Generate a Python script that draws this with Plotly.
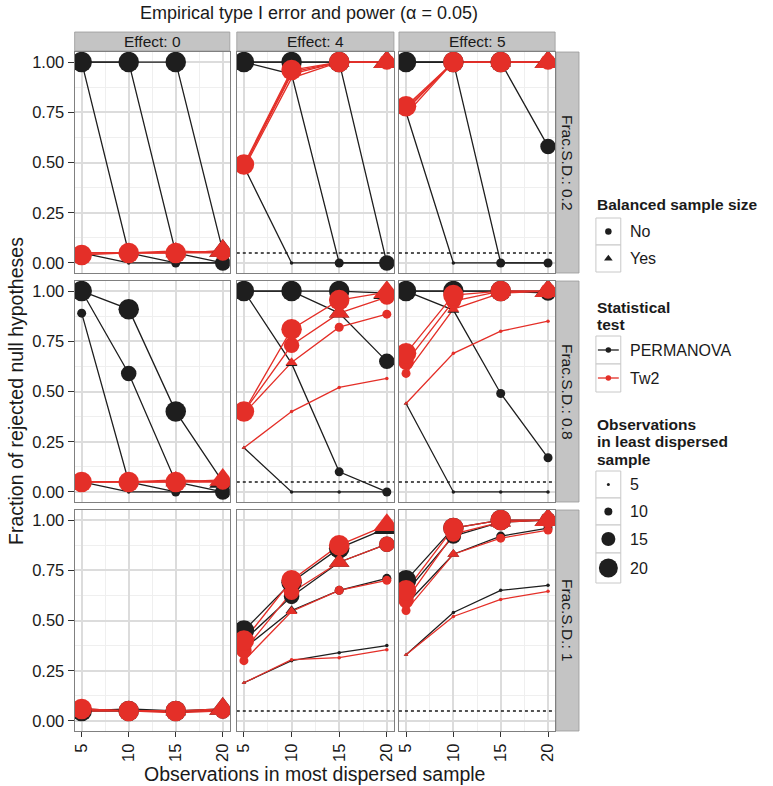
import plotly.graph_objects as go

W, H = 773, 786

# ---------------- data ----------------
n_most = [5, 10, 15, 20]        # x: observations in most dispersed sample
n_least = [5, 10, 15, 20]       # size: observations in least dispersed sample
effects = ["0", "4", "5"]
fracs = ["0.2", "0.8", "1"]
tests = ["PERMANOVA", "Tw2"]
alpha = 0.05
x_ticks = [5, 10, 15, 20]
y_ticks = [0, 0.25, 0.5, 0.75, 1.0]
y_ticktext = ["0.00", "0.25", "0.50", "0.75", "1.00"]

# each list: rows = n_least 5,10,15,20 ; columns = n_most 5,10,15,20
perm_e0_f02 = [[0.05, 0.00, 0.00, 0.00], [1.00, 0.05, 0.00, 0.00], [1.00, 1.00, 0.05, 0.00], [1.00, 1.00, 1.00, 0.06]]
tw2_e0_f02 = [[0.05, 0.05, 0.05, 0.06], [0.05, 0.05, 0.05, 0.05], [0.05, 0.05, 0.06, 0.05], [0.04, 0.05, 0.05, 0.06]]
perm_e4_f02 = [[0.48, 0.00, 0.00, 0.00], [1.00, 0.94, 0.00, 0.00], [1.00, 1.00, 1.00, 0.00], [1.00, 1.00, 1.00, 1.00]]
tw2_e4_f02 = [[0.47, 0.92, 1.00, 1.00], [0.48, 0.94, 1.00, 1.00], [0.48, 0.95, 1.00, 1.00], [0.49, 0.96, 1.00, 1.00]]
perm_e5_f02 = [[0.75, 0.00, 0.00, 0.00], [1.00, 1.00, 0.00, 0.00], [1.00, 1.00, 1.00, 0.58], [1.00, 1.00, 1.00, 1.00]]
tw2_e5_f02 = [[0.74, 1.00, 1.00, 1.00], [0.76, 1.00, 1.00, 1.00], [0.77, 1.00, 1.00, 1.00], [0.78, 1.00, 1.00, 1.00]]

perm_e0_f08 = [[0.05, 0.00, 0.00, 0.00], [0.89, 0.05, 0.00, 0.00], [1.00, 0.59, 0.05, 0.00], [1.00, 0.91, 0.40, 0.05]]
tw2_e0_f08 = [[0.05, 0.05, 0.05, 0.05], [0.05, 0.05, 0.05, 0.05], [0.05, 0.05, 0.06, 0.05], [0.05, 0.05, 0.05, 0.06]]
perm_e4_f08 = [[0.22, 0.00, 0.00, 0.00], [1.00, 0.64, 0.10, 0.00], [1.00, 1.00, 0.89, 0.65], [1.00, 1.00, 1.00, 0.99]]
tw2_e4_f08 = [[0.22, 0.40, 0.52, 0.565], [0.39, 0.645, 0.82, 0.885], [0.40, 0.73, 0.89, 0.97], [0.40, 0.81, 0.955, 0.995]]
perm_e5_f08 = [[0.44, 0.00, 0.00, 0.00], [1.00, 0.905, 0.49, 0.17], [1.00, 1.00, 1.00, 0.99], [1.00, 1.00, 1.00, 1.00]]
tw2_e5_f08 = [[0.44, 0.69, 0.80, 0.85], [0.59, 0.91, 0.99, 1.00], [0.645, 0.95, 1.00, 1.00], [0.69, 0.98, 1.00, 1.00]]

perm_e0_f1 = [[0.05, 0.05, 0.05, 0.05], [0.06, 0.05, 0.05, 0.05], [0.05, 0.06, 0.05, 0.05], [0.05, 0.05, 0.05, 0.06]]
tw2_e0_f1 = [[0.05, 0.05, 0.04, 0.05], [0.05, 0.05, 0.05, 0.05], [0.06, 0.05, 0.05, 0.05], [0.06, 0.05, 0.05, 0.06]]
perm_e4_f1 = [[0.19, 0.30, 0.34, 0.375], [0.36, 0.55, 0.65, 0.71], [0.40, 0.62, 0.79, 0.88], [0.45, 0.69, 0.86, 0.96]]
tw2_e4_f1 = [[0.19, 0.305, 0.315, 0.355], [0.30, 0.545, 0.65, 0.70], [0.35, 0.64, 0.79, 0.88], [0.40, 0.70, 0.875, 0.975]]
perm_e5_f1 = [[0.33, 0.54, 0.65, 0.675], [0.58, 0.83, 0.92, 0.96], [0.64, 0.92, 0.99, 1.00], [0.70, 0.96, 1.00, 1.00]]
tw2_e5_f1 = [[0.33, 0.52, 0.605, 0.645], [0.55, 0.83, 0.91, 0.95], [0.60, 0.93, 0.99, 1.00], [0.65, 0.96, 1.00, 1.00]]

panels = {
    (0, 0): (perm_e0_f02, tw2_e0_f02), (0, 1): (perm_e4_f02, tw2_e4_f02), (0, 2): (perm_e5_f02, tw2_e5_f02),
    (1, 0): (perm_e0_f08, tw2_e0_f08), (1, 1): (perm_e4_f08, tw2_e4_f08), (1, 2): (perm_e5_f08, tw2_e5_f08),
    (2, 0): (perm_e0_f1, tw2_e0_f1), (2, 1): (perm_e4_f1, tw2_e4_f1), (2, 2): (perm_e5_f1, tw2_e5_f1),
}

# ---------------- style ----------------
FONT = "Liberation Sans, Arial, Helvetica, sans-serif"
COLORS = {"PERMANOVA": "#1E1E1E", "Tw2": "#E42F28"}
SIZE = {5: 3.5, 10: 9, 15: 15.5, 20: 20.5}
LEG_SIZE = {5: 3, 10: 8, 15: 14, 20: 19}
GRID = "#dcdcdc"
MINOR = "#efefef"
BORDER = "#808080"
STRIP_FILL = "#c4c4c4"
STRIP_LINE = "#9a9a9a"

col_px = [(72, 228), (235, 393), (398, 555)]
row_px = [(52, 273), (281, 502), (510, 731)]
top_strip = (32, 51)
right_strip = (556, 579)

def fx(px):
    return px / W

def fy(py):
    return 1 - py / H

fig = go.Figure()
layout = dict(
    width=W, height=H, margin=dict(l=0, r=0, t=0, b=0),
    paper_bgcolor="white", plot_bgcolor="white", showlegend=False,
    font=dict(family=FONT, color="#1a1a1a"),
)

def axname(p):
    return "" if p == 0 else str(p + 1)

line_traces = []
marker_traces = []
for (r, c), (perm, tw2) in panels.items():
    p = r * 3 + c
    a = axname(p)
    xa, ya = "x" + a, "y" + a
    x0, x1 = col_px[c]
    y0, y1 = row_px[r]
    layout["xaxis" + a] = dict(
        domain=[fx(x0), fx(x1)], range=[4.25, 20.75], anchor=ya,
        tickvals=x_ticks, ticktext=[str(v) for v in x_ticks],
        showticklabels=(r == 2), ticks="outside" if r == 2 else "",
        ticklen=5, tickwidth=1, tickcolor="#333", tickangle=-90,
        tickfont=dict(size=16.5, color="#1a1a1a"),
        showgrid=True, gridcolor=GRID, gridwidth=1.5,
        minor=dict(tickvals=[7.5, 12.5, 17.5], showgrid=True, gridcolor=MINOR, gridwidth=1),
        showline=True, mirror=True, linecolor=BORDER, linewidth=1, zeroline=False, fixedrange=True,
    )
    layout["yaxis" + a] = dict(
        domain=[fy(y1), fy(y0)], range=[-0.05, 1.05], anchor=xa,
        tickvals=y_ticks, ticktext=y_ticktext,
        showticklabels=(c == 0), ticks="outside" if c == 0 else "",
        ticklen=6, tickwidth=1, tickcolor="#333",
        tickfont=dict(size=16.5, color="#1a1a1a"),
        showgrid=True, gridcolor=GRID, gridwidth=1.5,
        minor=dict(tickvals=[0.125, 0.375, 0.625, 0.875], showgrid=True, gridcolor=MINOR, gridwidth=1),
        showline=True, mirror=True, linecolor=BORDER, linewidth=1, zeroline=False, fixedrange=True,
    )
    if effects[c] != "0":
        line_traces.append(go.Scatter(
            x=[4.25, 20.75], y=[alpha, alpha], mode="lines", xaxis=xa, yaxis=ya,
            line=dict(color="#1a1a1a", width=1.5, dash="dot"), hoverinfo="skip"))
    for test, vals in zip(tests, (perm, tw2)):
        for i, nl in enumerate(n_least):
            line_traces.append(go.Scatter(
                x=n_most, y=vals[i], mode="lines", xaxis=xa, yaxis=ya,
                line=dict(color=COLORS[test], width=1.3), hoverinfo="skip"))
    for test, vals in zip(tests, (perm, tw2)):
        for i, nl in enumerate(n_least):
            syms = ["triangle-up" if nl == nm else "circle" for nm in n_most]
            sizes = [SIZE[nl] * (1.15 if nl == nm else 1.0) for nm in n_most]
            marker_traces.append(go.Scatter(
                x=n_most, y=vals[i], mode="markers", xaxis=xa, yaxis=ya, opacity=1,
                marker=dict(color=COLORS[test], size=sizes, symbol=syms, opacity=1, line=dict(width=0)),
                name=f"{test} n={nl}"))

for t in line_traces + marker_traces:
    fig.add_trace(t)

shapes = []
annotations = []
# strips
for c in range(3):
    x0, x1 = col_px[c]
    shapes.append(dict(type="rect", xref="paper", yref="paper", x0=fx(x0), x1=fx(x1),
                       y0=fy(top_strip[1]), y1=fy(top_strip[0]),
                       fillcolor=STRIP_FILL, line=dict(color=STRIP_LINE, width=0.8), layer="below"))
    annotations.append(dict(text=f"Effect: {effects[c]}", xref="paper", yref="paper",
                            x=fx((x0 + x1) / 2), y=fy((top_strip[0] + top_strip[1]) / 2 + 0.5),
                            xanchor="center", yanchor="middle",
                            showarrow=False, font=dict(size=15.5, color="#1a1a1a")))
for r in range(3):
    y0, y1 = row_px[r]
    shapes.append(dict(type="rect", xref="paper", yref="paper", x0=fx(right_strip[0]), x1=fx(right_strip[1]),
                       y0=fy(y1), y1=fy(y0),
                       fillcolor=STRIP_FILL, line=dict(color=STRIP_LINE, width=0.8), layer="below"))
    annotations.append(dict(text=f"Frac.S.D.: {fracs[r]}", xref="paper", yref="paper",
                            x=fx((right_strip[0] + right_strip[1]) / 2), y=fy((y0 + y1) / 2),
                            xanchor="center", yanchor="middle",
                            textangle=90, showarrow=False, font=dict(size=15.5, color="#1a1a1a")))

# titles
annotations.append(dict(text="Empirical type I error and power (α = 0.05)", xref="paper", yref="paper",
                        x=fx(308), y=fy(13), xanchor="center", yanchor="middle",
                        showarrow=False, font=dict(size=18, color="#1a1a1a")))
annotations.append(dict(text="Observations in most dispersed sample", xref="paper", yref="paper",
                        x=fx(313), y=fy(774), xanchor="center", yanchor="middle",
                        showarrow=False, font=dict(size=19.5, color="#1a1a1a")))
annotations.append(dict(text="Fraction of rejected null hypotheses", xref="paper", yref="paper",
                        x=fx(13), y=fy(391), xanchor="center", yanchor="middle",
                        textangle=-90, showarrow=False, font=dict(size=19.5, color="#1a1a1a")))

# ---------------- legend (drawn on its own hidden axis, pixel units) ----------------
LX0, LX1, LY0, LY1 = 585, 773, 190, 600
layout["xaxis10"] = dict(domain=[fx(LX0), 1], range=[LX0, LX1], visible=False, anchor="y10", fixedrange=True)
layout["yaxis10"] = dict(domain=[fy(LY1), fy(LY0)], range=[LY1, LY0], visible=False, anchor="x10", fixedrange=True)

KX0, KX1 = 596, 621
KXC = (KX0 + KX1) / 2
LABX = 628

def key_box(ya, yb):
    shapes.append(dict(type="rect", xref="paper", yref="paper", x0=fx(KX0), x1=fx(KX1),
                       y0=fy(yb), y1=fy(ya), fillcolor="white", line=dict(color="#c8c8c8", width=1), layer="below"))

def label(text, y):
    annotations.append(dict(text=text, xref="paper", yref="paper",
                            x=fx(LABX), y=fy(y), xanchor="left", yanchor="middle",
                            align="left", showarrow=False, font=dict(size=16, color="#1a1a1a")))

def title(lines, y_first, step=17.5):
    for k, text in enumerate(lines):
        annotations.append(dict(text=f"<b>{text}</b>", xref="paper", yref="paper", x=fx(KX0 - 1),
                                y=fy(y_first + k * step), xanchor="left", yanchor="middle", align="left",
                                showarrow=False, font=dict(size=15.5, color="#1a1a1a")))

# Balanced sample size
title(["Balanced sample size"], 205)
bal_labels = ["No", "Yes"]
bal_syms = ["circle", "triangle-up"]
bal_rows = [(218, 245), (245, 272)]
for lab, sym, (ya, yb) in zip(bal_labels, bal_syms, bal_rows):
    key_box(ya, yb)
    label(lab, (ya + yb) / 2)
    fig.add_trace(go.Scatter(x=[KXC], y=[(ya + yb) / 2], mode="markers", xaxis="x10", yaxis="y10",
                             marker=dict(color="#1E1E1E", opacity=1, size=6.5 if sym == "circle" else 7.5, symbol=sym)))

# Statistical test
title(["Statistical", "test"], 307)
test_rows = [(336, 364), (364, 392)]
for test, (ya, yb) in zip(tests, test_rows):
    key_box(ya, yb)
    label(test, (ya + yb) / 2)
    yc = (ya + yb) / 2
    fig.add_trace(go.Scatter(x=[KX0 + 2, KX1 - 2], y=[yc, yc], mode="lines", xaxis="x10", yaxis="y10",
                             line=dict(color=COLORS[test], width=1.3)))
    fig.add_trace(go.Scatter(x=[KXC], y=[yc], mode="markers", xaxis="x10", yaxis="y10",
                             marker=dict(color=COLORS[test], opacity=1, size=5.5)))

# Observations in least dispersed sample
title(["Observations", "in least dispersed", "sample"], 424)
size_rows = [(471, 498), (498, 525), (525, 553), (553, 583)]
for nl, (ya, yb) in zip(n_least, size_rows):
    key_box(ya, yb)
    label(str(nl), (ya + yb) / 2)
    fig.add_trace(go.Scatter(x=[KXC], y=[(ya + yb) / 2], mode="markers", xaxis="x10", yaxis="y10",
                             marker=dict(color="#1E1E1E", opacity=1, size=LEG_SIZE[nl])))

layout["shapes"] = shapes
layout["annotations"] = annotations
fig.update_layout(**layout)
fig.write_html("out.html", config={"displayModeBar": False},
               post_script="document.body.style.margin='0px';document.body.style.overflow='hidden';")
